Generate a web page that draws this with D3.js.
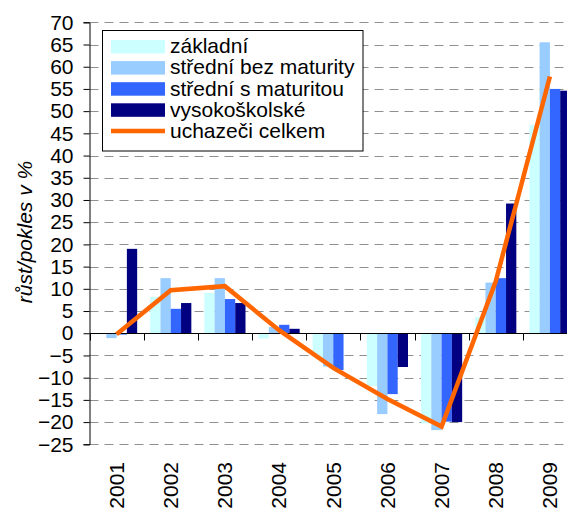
<!DOCTYPE html>
<html>
<head>
<meta charset="utf-8">
<script src="https://cdn.jsdelivr.net/npm/d3@7/dist/d3.min.js"></script>
<style>
html,body{margin:0;padding:0;background:#fff;}
svg{display:block;overflow:hidden;}
text{font-family:"Liberation Sans",Arial,sans-serif;fill:#000;}
</style>
</head>
<body>
<svg id="chart" width="567" height="509"></svg>
<script>
const years = ["2001","2002","2003","2004","2005","2006","2007","2008","2009"];
const zakladni = [-0.2, 8.2, 9.1, -1.2, -5.4, -11.9, -20.3, 3.6, 46.9];
const stredniBez = [-1.1, 12.4, 12.4, 1.4, -7.5, -18.2, -21.8, 11.4, 65.5];
const stredniS = [-0.3, 5.5, 7.7, 1.9, -8.3, -13.7, -19.9, 12.4, 55.0];
const vysokoskolske = [19.0, 6.8, 6.8, 1.0, 0, -7.6, -20.0, 29.2, 54.6];
const celkem = [-0.2, 9.7, 10.6, 0.7, -7.8, -14.8, -21.0, 11.7, 57.8];
const yTicks = [70,65,60,55,50,45,40,35,30,25,20,15,10,5,0,-5,-10,-15,-20,-25];
const seriesNames = ["základní","střední bez maturity","střední s maturitou","vysokoškolské"];
const lineName = "uchazeči celkem";
const yTitle = "růst/pokles v %";

(function(){
const barSeries = [zakladni, stredniBez, stredniS, vysokoskolske];
const colors = ["#CCFFFF","#99CCFF","#3366FF","#000080"];
const lineColor = "#FF6600";

const svg = d3.select("#chart");
const pLeft = 89.5, pRight = 577, pTop = 22.3, pBottom = 444.3;

const y = d3.scaleLinear().domain([-25,70]).range([pBottom, pTop]);
const x = d3.scaleBand().domain(years).range([pLeft, pRight]).paddingInner(0.24).paddingOuter(0.12);
const xs = d3.scaleBand().domain(d3.range(barSeries.length)).range([0, x.bandwidth()]);
const step = x.step();

// gridlines
svg.append("g").selectAll("line").data(yTicks.filter(t => t !== 0)).join("line")
  .attr("x1", pLeft).attr("x2", 567)
  .attr("y1", d => Math.round(y(d)) + 0.5).attr("y2", d => Math.round(y(d)) + 0.5)
  .attr("stroke", "#909090").attr("stroke-width", 1).attr("stroke-dasharray", "9,6");

// bars
const gBars = svg.append("g");
barSeries.forEach((vals, si) => {
  gBars.selectAll(null).data(vals).join("rect")
    .attr("x", (d, i) => x(years[i]) + xs(si))
    .attr("width", xs.bandwidth())
    .attr("y", d => y(Math.max(0, d)))
    .attr("height", d => Math.abs(y(d) - y(0)))
    .attr("fill", colors[si]);
});

// y axis
const yAxis = d3.axisLeft(y).tickValues(yTicks).tickSize(6).tickPadding(10).tickFormat(d3.format("d"));
const gy = svg.append("g").attr("transform", `translate(${pLeft},0)`).call(yAxis);
gy.select(".domain").attr("stroke", "#000");
gy.selectAll(".tick line").attr("stroke", "#000");
gy.selectAll(".tick text").attr("font-size", 21).attr("font-family", "Liberation Sans, Arial, sans-serif").attr("fill", "#000");

// x axis at zero
const y0 = Math.round(y(0)) + 0.5;
svg.append("line").attr("x1", pLeft).attr("x2", 567).attr("y1", y0).attr("y2", y0).attr("stroke", "#000");
const bounds = d3.range(years.length + 1).map(i => pLeft + i * step);
svg.append("g").selectAll("line").data(bounds).join("line")
  .attr("x1", d => Math.round(d) + 0.5).attr("x2", d => Math.round(d) + 0.5)
  .attr("y1", y0).attr("y2", y0 + 7).attr("stroke", "#000");

// year labels
svg.append("g").selectAll("text").data(years).join("text")
  .attr("transform", d => `translate(${x(d) + x.bandwidth()/2},462) rotate(-90)`)
  .attr("text-anchor", "end").attr("dy", "0.35em").attr("font-size", 21)
  .text(d => d);

// line
const line = d3.line().x((d, i) => x(years[i]) + x.bandwidth()/2).y(d => y(d));
svg.append("path").datum(celkem).attr("d", line)
  .attr("fill", "none").attr("stroke", lineColor).attr("stroke-width", 4.5).attr("stroke-linejoin", "miter");

// y title
svg.append("text").attr("transform", "translate(25,232) rotate(-90)")
  .attr("text-anchor", "middle").attr("dy", "0.35em").attr("font-size", 21).attr("font-style", "italic")
  .text(yTitle);

// legend
const lg = svg.append("g");
lg.append("rect").attr("x", 102.5).attr("y", 30.5).attr("width", 260.5).attr("height", 120.5)
  .attr("fill", "#fff").attr("stroke", "#000").attr("stroke-width", 1);
const rowBase = i => 53.3 + i * 21.1;
seriesNames.forEach((n, i) => {
  lg.append("rect").attr("x", 111).attr("y", rowBase(i) - 13.3).attr("width", 54).attr("height", 13.5).attr("fill", colors[i]);
  lg.append("text").attr("x", 170).attr("y", rowBase(i)).attr("font-size", 21).text(n);
});
lg.append("line").attr("x1", 111).attr("x2", 165).attr("y1", rowBase(4) - 6.8).attr("y2", rowBase(4) - 6.8)
  .attr("stroke", lineColor).attr("stroke-width", 4.5);
lg.append("text").attr("x", 170).attr("y", rowBase(4)).attr("font-size", 21).text(lineName);
})();
</script>
</body>
</html>
